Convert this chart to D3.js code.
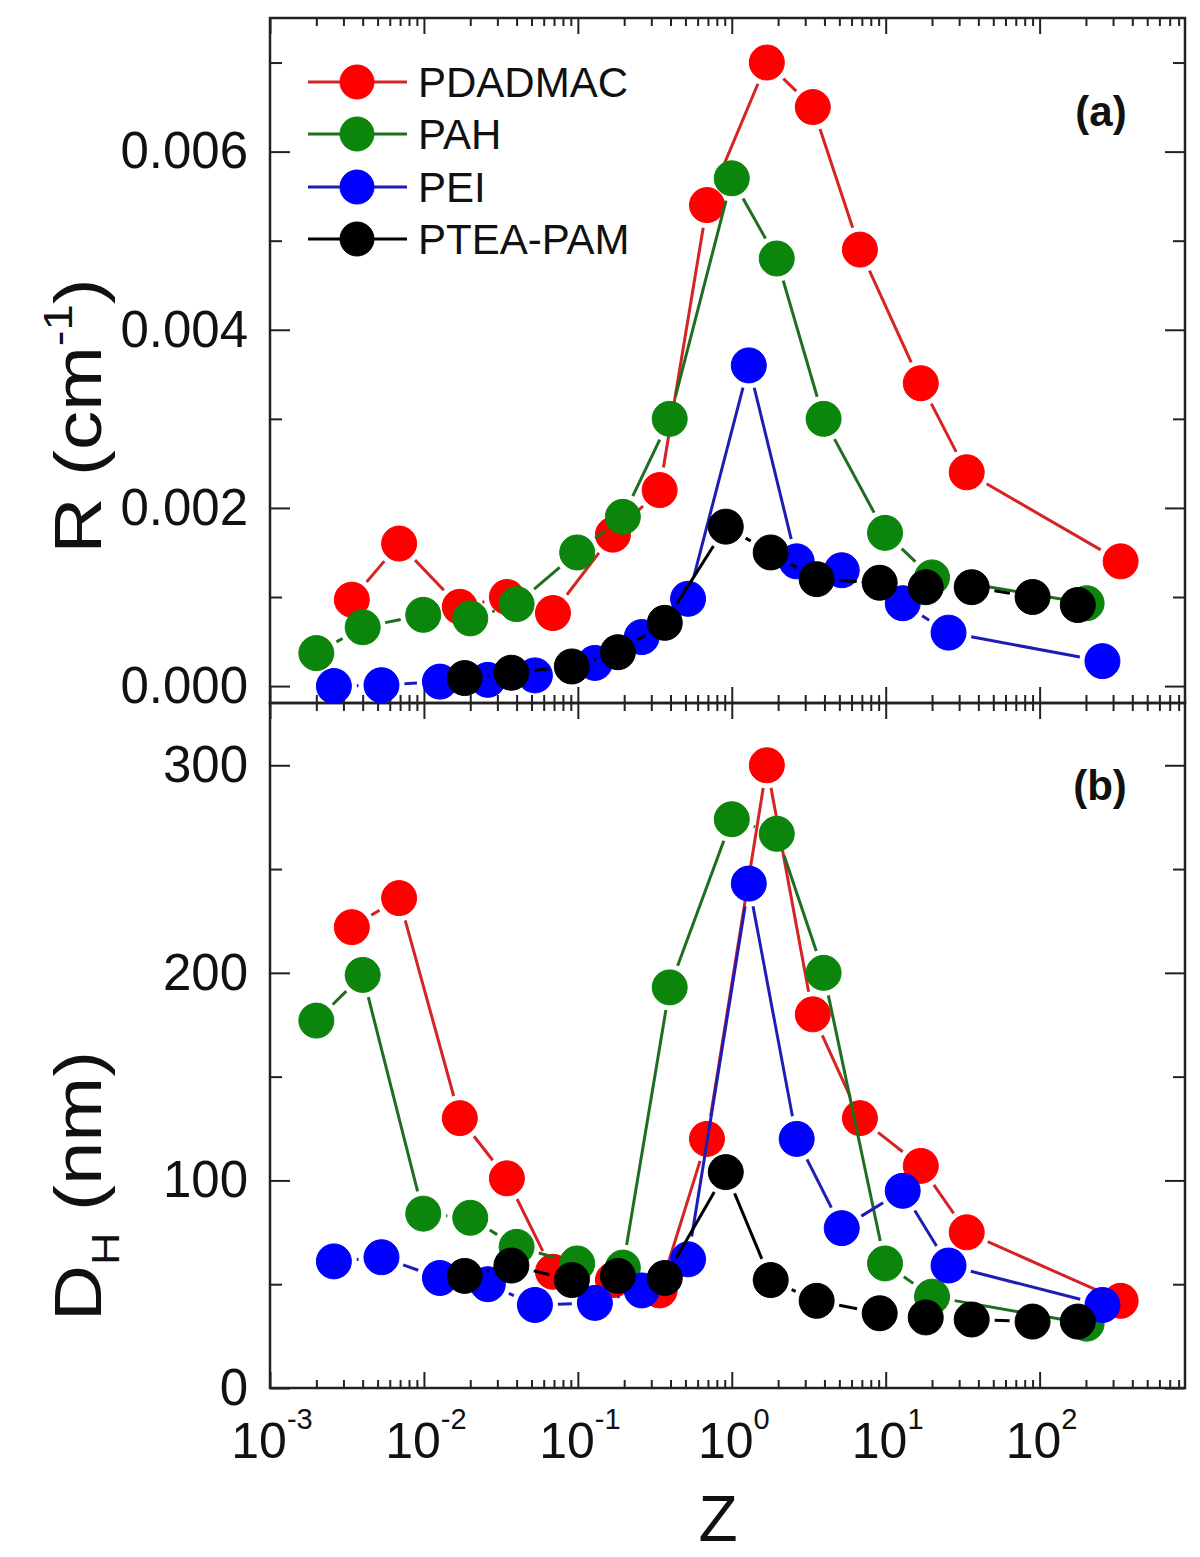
<!DOCTYPE html>
<html><head><meta charset="utf-8">
<script src="https://cdn.jsdelivr.net/npm/d3@7"></script>
<style>
body{margin:0;background:#fff}
svg{display:block;background:#fff}
text{font-family:"Liberation Sans",Arial,sans-serif;fill:#111}
</style>
</head><body>
<svg id="chart" width="1200" height="1557"></svg>
<script>
// ---------------- data ----------------
const seriesNames = ["PDADMAC", "PAH", "PEI", "PTEA-PAM"];

const zPDADMAC = [0.0034, 0.0069, 0.0171, 0.0346, 0.0689, 0.169, 0.34, 0.69, 1.69, 3.36, 6.8, 16.9, 33.6, 336];
const rPDADMAC = [0.00097, 0.0016, 0.00089, 0.0010, 0.00082, 0.0017, 0.0022, 0.0054, 0.0070, 0.0065, 0.0049, 0.0034, 0.0024, 0.0014];
const dPDADMAC = [222, 236, 130, 101, 56, 52, 47, 120, 300, 180, 130, 107, 75, 42];

const zPAH = [0.0020, 0.0040, 0.0099, 0.020, 0.040, 0.099, 0.196, 0.395, 1.0, 1.96, 3.95, 9.9, 20, 202];
const rPAH = [0.00037, 0.00066, 0.0008, 0.00076, 0.00092, 0.0015, 0.0019, 0.0030, 0.0057, 0.0048, 0.0030, 0.00172, 0.00122, 0.00093];
const dPAH = [177, 199, 84, 82, 68, 60, 58, 193, 274, 267, 200, 60, 44, 31];

const zPEI = [0.0026, 0.0053, 0.0127, 0.026, 0.0526, 0.129, 0.26, 0.52, 1.29, 2.64, 5.18, 12.9, 25.6, 256];
const rPEI = [0.0, 0.00001, 0.00005, 0.00007, 0.00012, 0.00026, 0.00055, 0.00098, 0.0036, 0.0014, 0.0013, 0.00093, 0.0006, 0.00028];
const dPEI = [61, 63, 53, 50, 40, 41, 47, 62, 243, 120, 77, 95, 59, 40];

const zPTEA = [0.0184, 0.037, 0.0914, 0.182, 0.367, 0.914, 1.79, 3.56, 9.14, 18.2, 36.2, 90, 177];
const rPTEA = [0.00009, 0.00015, 0.00022, 0.00038, 0.00071, 0.00179, 0.0015, 0.0012, 0.00116, 0.00111, 0.00111, 0.0010, 0.00091];
const dPTEA = [54, 59, 52, 54, 53, 104, 52, 42, 36, 34, 33, 32, 32];

const xTickExponents = [-3, -2, -1, 0, 1, 2];
const yTopTicks = [0, 0.002, 0.004, 0.006];
const yTopMinor = [0.001, 0.003, 0.005, 0.007];
const yBotTicks = [0, 100, 200, 300];
const yBotMinor = [50, 150, 250];
const panelLabels = ["(a)", "(b)"];

// ---------------- styles ----------------
const fillColors = ["#ff0000", "#0b850b", "#0000ff", "#000000"];
const lineColors = ["#d42424", "#1f6e1f", "#1d1db4", "#000000"];

const svg = d3.select("#chart");
const L = 270, R = 1185, T = 18, MID = 703, B = 1388;

const x = d3.scaleLog().domain([1e-3, 880]).range([L, R]);
const yTop = d3.scaleLinear().domain([-0.00019, 0.0075]).range([MID, T]);
const yBot = d3.scaleLinear().domain([0, 330]).range([B, MID]);

const series = [
  {z: zPDADMAC, r: rPDADMAC, d: dPDADMAC},
  {z: zPAH, r: rPAH, d: dPAH},
  {z: zPEI, r: rPEI, d: dPEI},
  {z: zPTEA, r: rPTEA, d: dPTEA}
];

const xMinor = [];
for (let e = -3; e <= 2; e++) for (let k = 2; k <= 9; k++) { const v = k * Math.pow(10, e); if (v <= 880) xMinor.push(v); }
const xMajor = xTickExponents.map(e => Math.pow(10, e));

function styleAxis(g) {
  g.select(".domain").remove();
  g.selectAll(".tick line").attr("stroke", "#222").attr("stroke-width", 2);
}

// x ticks on all four horizontal edges
[[T, "down"], [MID, "up"], [MID, "down"], [B, "up"]].forEach(([yy, dir]) => {
  const mk = (vals, len) => {
    const ax = (dir === "up" ? d3.axisBottom(x) : d3.axisTop(x)).tickValues(vals).tickFormat("").tickSizeInner(-len).tickSizeOuter(0);
    svg.append("g").attr("transform", `translate(0,${yy})`).call(ax).call(styleAxis);
  };
  mk(xMajor, 16);
  mk(xMinor, 8);
});

// y ticks, left (with labels) and right
function yTicks(scale, major, minor, fmt) {
  svg.append("g").attr("transform", `translate(${L},0)`)
    .call(d3.axisLeft(scale).tickValues(major).tickFormat(fmt).tickSizeInner(-20).tickSizeOuter(0).tickPadding(22))
    .call(styleAxis)
    .call(g => g.selectAll("text").attr("font-size", 51).attr("font-family", "Liberation Sans, Arial, sans-serif").attr("fill", "#111"));
  svg.append("g").attr("transform", `translate(${L},0)`)
    .call(d3.axisLeft(scale).tickValues(minor).tickFormat("").tickSizeInner(-12).tickSizeOuter(0)).call(styleAxis);
  svg.append("g").attr("transform", `translate(${R},0)`)
    .call(d3.axisRight(scale).tickValues(major).tickFormat("").tickSizeInner(-20).tickSizeOuter(0)).call(styleAxis);
  svg.append("g").attr("transform", `translate(${R},0)`)
    .call(d3.axisRight(scale).tickValues(minor).tickFormat("").tickSizeInner(-12).tickSizeOuter(0)).call(styleAxis);
}
yTicks(yTop, yTopTicks, yTopMinor, d3.format(".3f"));
yTicks(yBot, yBotTicks, yBotMinor, d3.format("d"));

// frames
svg.append("rect").attr("x", L).attr("y", T).attr("width", R - L).attr("height", MID - T)
  .attr("fill", "none").attr("stroke", "#222").attr("stroke-width", 2.5);
svg.append("rect").attr("x", L).attr("y", MID).attr("width", R - L).attr("height", B - MID)
  .attr("fill", "none").attr("stroke", "#222").attr("stroke-width", 2.5);

// x tick labels 10^n
const xl = svg.append("g");
xTickExponents.forEach(e => {
  const t = xl.append("text").attr("x", x(Math.pow(10, e)) + 2).attr("y", 1458)
    .attr("text-anchor", "middle").attr("font-size", 50);
  t.append("tspan").text("10");
  t.append("tspan").attr("dy", -29).attr("font-size", 29).text(e === 0 ? "0" : String(e));
});

// axis titles
svg.append("text").attr("x", 718).attr("y", 1541).attr("text-anchor", "middle")
  .attr("font-size", 64).text("Z");

const rl = svg.append("text").attr("transform", "translate(101,416) rotate(-90) scale(1.18,1)")
  .attr("text-anchor", "middle").attr("font-size", 66);
rl.append("tspan").text("R (cm");
rl.append("tspan").attr("dy", -29).attr("font-size", 40).text("-1");
rl.append("tspan").attr("dy", 29).text(")");

const dl = svg.append("text").attr("transform", "translate(101,1186) rotate(-90) scale(1.18,1)")
  .attr("text-anchor", "middle").attr("font-size", 66);
dl.append("tspan").text("D");
dl.append("tspan").attr("dy", 18).attr("font-size", 38).text("H");
dl.append("tspan").attr("dy", -18).text(" (nm)");

// panel labels
svg.append("text").attr("x", 1101).attr("y", 126).attr("text-anchor", "middle")
  .attr("font-family", "Lato, 'Open Sans', sans-serif").attr("font-weight", "bold").attr("font-size", 42).text(panelLabels[0]);
svg.append("text").attr("x", 1100).attr("y", 800).attr("text-anchor", "middle")
  .attr("font-family", "Lato, 'Open Sans', sans-serif").attr("font-weight", "bold").attr("font-size", 42).text(panelLabels[1]);

// data
const RAD = 17.5, OFF = 23;
function drawSeries(g, zs, vs, yScale, i) {
  const pts = zs.map((z, k) => [x(z), yScale(vs[k])]);
  const segs = [];
  for (let k = 0; k < pts.length - 1; k++) {
    const [x1, y1] = pts[k], [x2, y2] = pts[k + 1];
    const dx = x2 - x1, dy = y2 - y1, dist = Math.hypot(dx, dy);
    if (dist > 2 * OFF + 1) {
      const ux = dx / dist, uy = dy / dist;
      segs.push([x1 + ux * OFF, y1 + uy * OFF, x2 - ux * OFF, y2 - uy * OFF]);
    }
  }
  g.selectAll(null).data(segs).enter().append("line")
    .attr("x1", s => s[0]).attr("y1", s => s[1]).attr("x2", s => s[2]).attr("y2", s => s[3])
    .attr("stroke", lineColors[i]).attr("stroke-width", 3);
  g.selectAll(null).data(pts).enter().append("circle")
    .attr("cx", p => p[0]).attr("cy", p => p[1]).attr("r", RAD)
    .attr("fill", fillColors[i]).attr("stroke", fillColors[i]).attr("stroke-width", 1);
}
const gTop = svg.append("g"), gBot = svg.append("g");
series.forEach((s, i) => {
  drawSeries(gTop, s.z, s.r, yTop, i);
  drawSeries(gBot, s.z, s.d, yBot, i);
});

// legend
const lg = svg.append("g");
const legendRows = [82, 134, 187, 239];
seriesNames.forEach((name, i) => {
  const yy = legendRows[i];
  lg.append("line").attr("x1", 308).attr("x2", 407).attr("y1", yy).attr("y2", yy)
    .attr("stroke", lineColors[i]).attr("stroke-width", 3);
  lg.append("circle").attr("cx", 357).attr("cy", yy).attr("r", 17)
    .attr("fill", fillColors[i]).attr("stroke", fillColors[i]);
  lg.append("text").attr("x", 418).attr("y", yy + 15).attr("font-size", 42).text(name);
});
</script>
</body></html>
